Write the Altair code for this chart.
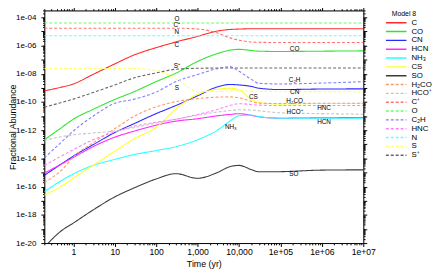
import altair as alt
import pandas as pd
import json

times = [0.2, 0.5, 1, 3, 10, 30, 100, 300, 1000, 3000, 6000, 1e4, 2e4, 3e4, 1e5, 1e6, 1e7]

species = ["C", "CO", "CN", "HCN", "NH₃", "CS", "SO", "H₂CO", "HCO⁺", "C⁺", "O", "C₂H", "HNC", "N", "S", "S⁺"]
colors = ["#ff2a2a", "#2ee62e", "#2a2aff", "#ff2aff", "#2affff", "#ffff2a", "#3c3c3c", "#ff9966",
          "#c4c4c4", "#ff7373", "#66ff66", "#8080ff", "#ff80ff", "#66ffff", "#ffff66", "#666666"]
dashes = [[1, 0]] * 7 + [[3, 2]] * 9

C = [6.2e-10, 1.1e-9, 1.9e-9, 9.0e-9, 5.0e-8, 2.2e-7, 7.1e-7, 1.8e-6, 4.5e-6, 1.07e-5, 1.38e-5, 1.48e-5, 1.55e-5, 1.55e-5, 1.55e-5, 1.55e-5, 1.55e-5]
CO = [2.1e-13, 1.4e-12, 6.0e-12, 3.0e-11, 1.5e-10, 5.5e-10, 2.8e-9, 1.1e-8, 7.5e-8, 2.7e-7, 4.7e-7, 5.4e-7, 4.5e-7, 4.0e-7, 3.8e-7, 4.0e-7, 4.2e-7]
CN = [6.3e-16, 3.8e-15, 1.45e-14, 9.3e-14, 6.8e-13, 3.0e-12, 1.5e-11, 5.6e-11, 2.75e-10, 1.17e-9, 1.74e-9, 1.62e-9, 1.26e-9, 9.5e-10, 7.6e-10, 8.3e-10, 8.5e-10]
HCN = [9.1e-16, 3.8e-15, 1.17e-14, 6.8e-14, 3.2e-13, 8.7e-13, 2.3e-12, 4.4e-12, 6.5e-12, 1.05e-11, 1.3e-11, 1.48e-11, 1.12e-11, 8.9e-12, 7.1e-12, 7.6e-12, 7.9e-12]
NH3 = [4.4e-17, 2.5e-16, 7.9e-16, 3.2e-15, 8.5e-15, 1.9e-14, 3.6e-14, 6.8e-14, 2.1e-13, 1.0e-12, 4.4e-12, 1.05e-11, 1.17e-11, 9.3e-12, 7.1e-12, 7.1e-12, 7.1e-12]
CS = [2.5e-17, 1.0e-16, 4.0e-16, 3.2e-15, 3.2e-14, 2.5e-13, 1.6e-12, 3.2e-11, 3.5e-10, 7.9e-10, 9.5e-10, 7.2e-10, 1.5e-10, 9.1e-11, 7.1e-11, 7.9e-11, 7.9e-11]
SO = [5.0e-21, 6.9e-20, 2.6e-19, 2.2e-18, 1.86e-17, 8.3e-17, 3.5e-16, 8.3e-16, 3.9e-16, 1.0e-15, 2.6e-15, 3.2e-15, 1.6e-15, 1.12e-15, 1.15e-15, 1.48e-15, 1.55e-15]
H2CO = [2.0e-16, 1.3e-15, 1.26e-14, 1.26e-13, 1.26e-12, 1.0e-11, 4.5e-11, 1.07e-10, 1.74e-10, 2.2e-10, 2.3e-10, 2.0e-10, 1.1e-10, 8.3e-11, 7.8e-11, 8.1e-11, 8.1e-11]
HCOp = [1.9e-13, 3.4e-13, 4.7e-13, 6.3e-13, 8.9e-13, 1.55e-12, 3.2e-12, 6.0e-12, 1.15e-11, 1.95e-11, 2.5e-11, 2.8e-11, 2.7e-11, 2.4e-11, 1.7e-11, 1.5e-11, 1.35e-11]
Cp = [1.7e-5, 1.7e-5, 1.7e-5, 1.7e-5, 1.7e-5, 1.7e-5, 1.7e-5, 1.7e-5, 1.5e-5, 7.8e-6, 3.5e-6, 2.4e-6, 1.8e-6, 1.7e-6, 1.65e-6, 1.65e-6, 1.65e-6]
O = [4.0e-5, 4.0e-5, 4.0e-5, 4.0e-5, 4.0e-5, 4.0e-5, 4.0e-5, 4.0e-5, 4.0e-5, 4.0e-5, 4.0e-5, 4.0e-5, 4.0e-5, 4.0e-5, 4.0e-5, 4.0e-5, 4.0e-5]
C2H = [1.1e-14, 1.3e-13, 8.7e-13, 9.8e-12, 7.9e-11, 1.6e-10, 5.0e-10, 2.8e-9, 8.9e-9, 2.3e-8, 3.2e-8, 1.5e-8, 4.0e-9, 2.1e-9, 1.9e-9, 2.2e-9, 2.75e-9]
HNC = [3.2e-15, 1.4e-14, 4.2e-14, 2.1e-13, 7.5e-13, 1.95e-12, 3.7e-12, 6.0e-12, 1.3e-11, 2.95e-11, 5.6e-11, 7.6e-11, 6.6e-11, 6.0e-11, 5.6e-11, 5.6e-11, 5.6e-11]
N = [5.0e-6, 5.0e-6, 5.0e-6, 5.0e-6, 5.0e-6, 5.0e-6, 5.0e-6, 5.0e-6, 5.0e-6, 5.0e-6, 5.0e-6, 5.0e-6, 5.0e-6, 5.0e-6, 5.0e-6, 5.0e-6, 5.0e-6]
S = [2.35e-8, 2.35e-8, 2.35e-8, 2.35e-8, 2.35e-8, 2.35e-8, 1.75e-8, 4.5e-9, 5.6e-10, 5.5e-10, 6.0e-10, 6.2e-10, 5.9e-10, 5.8e-10, 5.5e-10, 5.4e-10, 5.2e-10]
Sp = [4.3e-11, 8.9e-11, 1.6e-10, 4.7e-10, 1.6e-9, 5.2e-9, 1.15e-8, 2.1e-8, 2.45e-8, 2.55e-8, 2.6e-8, 2.6e-8, 2.6e-8, 2.6e-8, 2.6e-8, 2.6e-8, 2.6e-8]

series = [C, CO, CN, HCN, NH3, CS, SO, H2CO, HCOp, Cp, O, C2H, HNC, N, S, Sp]

# in-plot labels
lab_names = ["O", "C⁺", "N", "C", "S⁺", "S", "CS", "NH₃", "CO", "C₂H", "CN", "H₂CO", "HNC", "HCO⁺", "HCN", "SO"]
lab_t = [316, 316, 316, 316, 316, 316, 22200, 6340, 2.2e5, 2.2e5, 2.2e5, 2.2e5, 1.13e6, 2.2e5, 1.13e6, 2.1e5]
lab_v = [7.3e-5, 2.8e-5, 9.1e-6, 1.15e-6, 3.4e-8, 1.0e-9, 2.4e-10, 1.66e-12, 6.0e-7, 3.6e-9, 5.2e-10, 1.26e-10, 3.5e-11, 2.1e-11, 3.7e-12, 7.8e-16]

# axis ticks
x_major = [1, 10, 100, 1000, 10000, 1e5, 1e6, 1e7]
x_labels = ["1", "10", "100", "1,000", "10,000", "1e+05", "1e+06", "1e+07"]
x_decades = [0.1, 1, 10, 100, 1000, 10000, 1e5, 1e6, 1e7]
y_major = [1e-4, 1e-6, 1e-8, 1e-10, 1e-12, 1e-14, 1e-16, 1e-18, 1e-20]
y_labels = ["1e-04", "1e-06", "1e-08", "1e-10", "1e-12", "1e-14", "1e-16", "1e-18", "1e-20"]
y_decades = [float(f"1e-{k}") for k in range(4, 21)]

x_lo, x_hi = 0.2, 1e7
y_lo, y_hi = 1e-20, 3.09e-4

x_exps = [-1, 0, 1, 2, 3, 4, 5, 6, 7]
x_ticks = [float(f"{m}e{e}") for e in x_exps for m in range(1, 10) if x_lo <= float(f"{m}e{e}") <= x_hi]
y_ticks = [float(f"{m}e-{k}") for k in range(4, 21) for m in range(1, 10) if y_lo <= float(f"{m}e-{k}") <= y_hi]

rows = []
for sp, vals in zip(species, series):
    for t, v in zip(times, vals):
        rows.append({"sp": sp, "t": t, "v": v})
df = pd.DataFrame(rows)
lab_df = pd.DataFrame({"name": lab_names, "t": lab_t, "v": lab_v})

FONT = "Liberation Sans"
xs = alt.Scale(type="log", domain=[x_lo, x_hi], nice=False)
ys = alt.Scale(type="log", domain=[y_lo, y_hi], nice=False)

xmaj = json.dumps(x_major)
xlab = json.dumps(x_labels)
xdec = json.dumps(x_decades)
ymaj = json.dumps(y_major)
ylab = json.dumps(y_labels)
ydec = json.dumps(y_decades)

x_label_expr = f"indexof({xmaj}, datum.value) >= 0 ? {xlab}[indexof({xmaj}, datum.value)] : ''"
y_label_expr = f"indexof({ymaj}, datum.value) >= 0 ? {ylab}[indexof({ymaj}, datum.value)] : ''"
x_tick_size = {"condition": {"test": f"indexof({xdec}, datum.value) >= 0", "value": 3.5}, "value": 1.8}
y_tick_size = {"condition": {"test": f"indexof({ydec}, datum.value) >= 0", "value": 3.5}, "value": 1.8}

common = dict(labelFont=FONT, titleFont=FONT, labelColor="black", titleColor="black",
              domainColor="black", tickColor="black", titleFontWeight="normal",
              labelOverlap=False, labelFlush=False, grid=False)

x_bottom = alt.Axis(values=x_ticks, labelExpr=x_label_expr, tickSize=x_tick_size, title="Time (yr)",
                    labelFontSize=8.8, titleFontSize=9, labelPadding=1, titlePadding=4, **common)
y_left = alt.Axis(values=y_ticks, labelExpr=y_label_expr, tickSize=y_tick_size, title="Fractional Abundance",
                  labelFontSize=8.2, titleFontSize=9, labelPadding=5, titleX=-29, titleY=118.5,
                  titleAngle=270, titleBaseline="alphabetic", titleAlign="center", **common)
x_top = alt.Axis(values=x_ticks, labels=False, tickSize=x_tick_size, title=None, orient="top", **common)
y_right = alt.Axis(values=y_ticks, labels=False, tickSize=y_tick_size, title=None, orient="right", **common)

# wide horizontal stroke symbol with a small nominal size keeps legend rows tight
legend = alt.Legend(title="Model 8", orient="none", legendX=354, legendY=0, symbolType="M-3,0H3",
                    symbolSize=49, symbolStrokeWidth=1.5, rowPadding=0,
                    labelFontSize=8, labelFont=FONT, titleFont=FONT, titleFontSize=7,
                    titleFontWeight="normal", titlePadding=1, labelOffset=11, padding=0,
                    labelLimit=100, labelColor="black", titleColor="black")

lines = alt.Chart(df).mark_line(interpolate="monotone", strokeWidth=1.1, clip=True).encode(
    x=alt.X("t:Q", scale=xs, axis=x_bottom),
    y=alt.Y("v:Q", scale=ys, axis=y_left),
    color=alt.Color("sp:N", scale=alt.Scale(domain=species, range=colors), legend=legend),
    strokeDash=alt.StrokeDash("sp:N", scale=alt.Scale(domain=species, range=dashes), legend=legend),
    detail="sp:N",
)

frame = alt.Chart(df).mark_point(opacity=0).encode(
    x=alt.X("t:Q", scale=xs, axis=x_top),
    y=alt.Y("v:Q", scale=ys, axis=y_right),
)

texts = alt.Chart(lab_df).mark_text(fontSize=6.5, font=FONT, color="black").encode(
    x=alt.X("t:Q", scale=xs, axis=None),
    y=alt.Y("v:Q", scale=ys, axis=None),
    text="name:N",
)

chart = alt.layer(lines, frame, texts).resolve_axis(x="independent", y="independent").properties(
    width=325, height=237,
    autosize=alt.AutoSizeParams(type="none"),
    padding={"left": 37, "top": 0, "right": 71, "bottom": 27},
).configure_view(stroke="black", strokeWidth=1).configure(background="white")

chart.save("out.html", embed_options={"renderer": "svg", "actions": False})
